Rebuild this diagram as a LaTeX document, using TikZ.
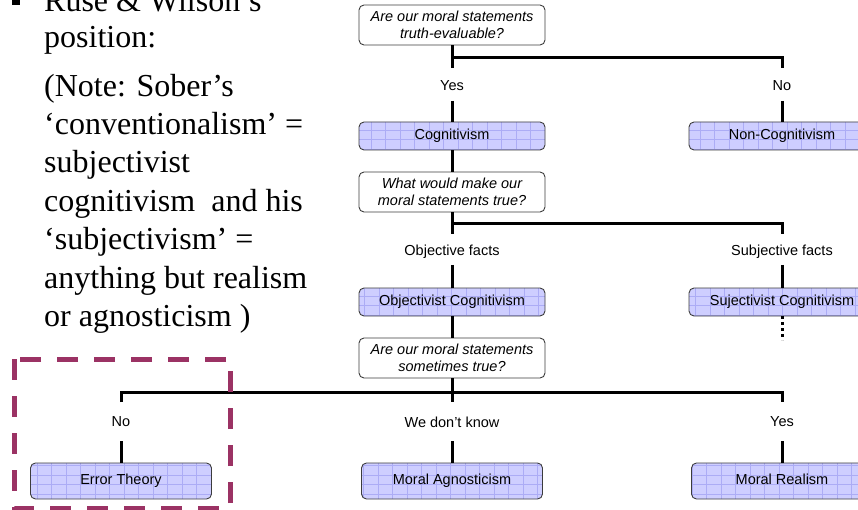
\documentclass[tikz,border=0pt]{standalone}
\usepackage{fontspec}
\setmainfont{Liberation Serif}
\setsansfont{Liberation Sans}
\definecolor{lav}{RGB}{206,206,255}
\definecolor{lavgrid}{RGB}{172,172,245}
\definecolor{boxline}{RGB}{60,60,60}
\definecolor{hilite}{RGB}{155,50,100}
\tikzset{
  qbox/.style={draw=boxline, line width=0.9pt, fill=white, rounded corners=5pt,
    minimum width=186pt, minimum height=40pt, inner sep=2pt, align=center,
    font=\sffamily\itshape\fontsize{14.5}{17}\selectfont},
  abox/.style={draw=boxline, line width=0.9pt, fill=lav, rounded corners=5pt,
    minimum width=186pt, minimum height=28pt, inner sep=2pt,
    text height=10.5pt, text depth=3pt,
    font=\sffamily\fontsize{14.5}{17}\selectfont,
    path picture={\draw[lavgrid, line width=0.6pt, xstep=14.5pt, ystep=9.5pt]
      (path picture bounding box.south west) grid (path picture bounding box.north east);}},
  bbox/.style={abox, minimum width=181pt, minimum height=36pt},
  lbl/.style={font=\sffamily\fontsize{14.5}{17}\selectfont, inner sep=1pt},
  conn/.style={line width=3pt, black},
  side/.style={anchor=base west, inner sep=0pt, font=\rmfamily\fontsize{32}{38}\selectfont},
}
\begin{document}
\begin{tikzpicture}[x=1pt, y=-1pt]
\useasboundingbox (0,0) rectangle (858,510);
\clip (0,0) rectangle (858,510);

% left text
\fill[black] (12,-3) rectangle (20,5);
\node[side] (t1) at (44,12) {Ruse \& Wilson’s};
\node[side] (t2) at (44,48) {position:};
\node[side] (t3) at (44,97) {(Note: Sober’s};
\node[side] (t4) at (44,135) {‘conventionalism’ =};
\node[side] (t5) at (44,173) {subjectivist};
\node[side] (t6) at (44,212) {cognitivism\ \ and his};
\node[side] (t7) at (44,250) {‘subjectivism’ =};
\node[side] (t8) at (44,288) {anything but realism};
\node[side] (t9) at (44,326) {or agnosticism )};

% nodes
\node[qbox] (q1) at (452,25) {Are our moral statements\\truth-evaluable?};
\node[lbl] (y1) at (452,86) {Yes};
\node[lbl] (n1) at (782,86) {No};
\node[abox] (cog) at (452,136) {Cognitivism};
\node[abox] (ncog) at (782,136) {Non-Cognitivism};
\node[qbox] (q2) at (452,192) {What would make our\\moral statements true?};
\node[lbl] (of) at (452,252) {Objective facts};
\node[lbl] (sf) at (782,252) {Subjective facts};
\node[abox] (obj) at (452,302) {Objectivist Cognitivism};
\node[abox] (subj) at (782,302) {Sujectivist Cognitivism};
\node[qbox] (q3) at (452,358) {Are our moral statements\\sometimes true?};
\node[lbl] (n3) at (121,422) {No};
\node[lbl] (dk) at (452,422) {We don’t know};
\node[lbl] (y3) at (782,422) {Yes};
\node[bbox] (err) at (121,481) {Error Theory};
\node[bbox] (agn) at (452,481) {Moral Agnosticism};
\node[bbox] (real) at (782,481) {Moral Realism};

% level 1
\draw[conn] (q1.south) -- (y1.north |- 0,68);
\draw[conn] (q1.south |- 0,58) -- (n1.north |- 0,58) -- (n1.north |- 0,68);
\draw[conn] (y1.north |- 0,101) -- (cog.north);
\draw[conn] (n1.north |- 0,101) -- (ncog.north);
\draw[conn] (cog.south) -- (q2.north);
% level 2
\draw[conn] (q2.south) -- (of.north |- 0,234);
\draw[conn] (q2.south |- 0,224) -- (sf.north |- 0,224) -- (sf.north |- 0,234);
\draw[conn] (of.north |- 0,265) -- (obj.north);
\draw[conn] (sf.north |- 0,265) -- (subj.north);
\draw[conn, dash pattern=on 3pt off 3pt] (subj.south) -- ++(0,24);
\draw[conn] (obj.south) -- (q3.north);
% level 3
\draw[conn] (q3.south) -- (dk.north |- 0,402);
\draw[conn] (n3.north |- 0,402) -- (n3.north |- 0,392) -- (y3.north |- 0,392) -- (y3.north |- 0,402);
\draw[conn] (n3.north |- 0,441) -- (err.north);
\draw[conn] (dk.north |- 0,441) -- (agn.north);
\draw[conn] (y3.north |- 0,441) -- (real.north);

% highlight
\draw[hilite, line width=5pt, dash pattern=on 21pt off 16pt] (14,359) rectangle (230,508);
\end{tikzpicture}
\end{document}
